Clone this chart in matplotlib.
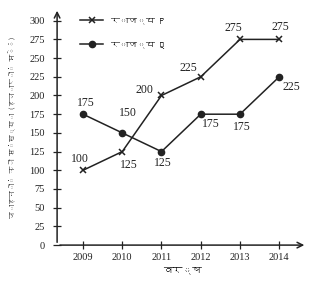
import matplotlib
matplotlib.use("Agg")
import matplotlib.pyplot as plt
from matplotlib import font_manager
from matplotlib.ft2font import FT2Font

years = [2009, 2010, 2011, 2012, 2013, 2014]
state_p = [100, 125, 200, 225, 275, 275]
state_q = [175, 150, 125, 175, 175, 225]
yticks = list(range(0, 301, 25))

# label offsets in points
p_offsets = [(-2, 8), (5, -10), (-12, 4), (-9, 6), (-5, 8), (1, 9)]
q_offsets = [(2, 8), (4, 14), (1, -8), (7, -7), (1, -9), (9, -7)]

# find some installed font that has Devanagari glyphs
deva = None
for path in font_manager.findSystemFonts():
    try:
        if 0x0935 in FT2Font(path).get_charmap():
            font_manager.fontManager.addfont(path)
            deva = font_manager.FontProperties(fname=path).get_name()
            break
    except Exception:
        pass
hindi_family = [deva, "DejaVu Sans"] if deva else ["DejaVu Sans"]

plt.rcParams["font.family"] = ["Liberation Serif", "DejaVu Serif"]

fig = plt.figure(figsize=(3.32, 2.85), dpi=100)
ax = fig.add_axes([0.172, 0.14, 0.753, 0.832])

ax.plot(years, state_p, color="#222222", lw=1.1, marker="x", ms=5, mew=1.1,
        label="राज्य P")
ax.plot(years, state_q, color="#222222", lw=1.1, marker="o", ms=4.5,
        label="राज्य Q")

for x, y, off in zip(years, state_p, p_offsets):
    ax.annotate(str(y), (x, y), xytext=off, textcoords="offset points",
                ha="center", va="center", fontsize=8.5, color="#222222")
for x, y, off in zip(years, state_q, q_offsets):
    ax.annotate(str(y), (x, y), xytext=off, textcoords="offset points",
                ha="center", va="center", fontsize=8.5, color="#222222")

ax.set_xlim(2008.34, 2014.71)
ax.set_ylim(0, 317)
ax.set_xticks(years)
ax.set_yticks(yticks)
ax.tick_params(direction="inout", length=6, width=0.9, labelsize=7.5, pad=3,
               colors="#222222")
ax.tick_params(axis="y", pad=6)

for s in ["top", "right", "left", "bottom"]:
    ax.spines[s].set_visible(False)
ax.annotate("", xy=(1, 0), xytext=(0, 0), xycoords="axes fraction",
            arrowprops=dict(arrowstyle="->", lw=1.1, color="#222222"))
ax.annotate("", xy=(0, 1), xytext=(0, 0), xycoords="axes fraction",
            arrowprops=dict(arrowstyle="->", lw=1.1, color="#222222"))

ax.set_xlabel("वर्ष", family=hindi_family, fontsize=7, fontweight="bold",
              labelpad=3)
ax.set_ylabel("वाहनों की संख्या (हजारों में)", family=hindi_family, fontsize=5,
              fontweight="bold", labelpad=9)

ax.legend(loc="upper left", bbox_to_anchor=(0.06, 1.0), frameon=False,
          prop={"family": hindi_family, "size": 6.5, "weight": "bold"},
          handlelength=2.5, labelspacing=1.8)

fig.savefig("out.png", dpi=100)
